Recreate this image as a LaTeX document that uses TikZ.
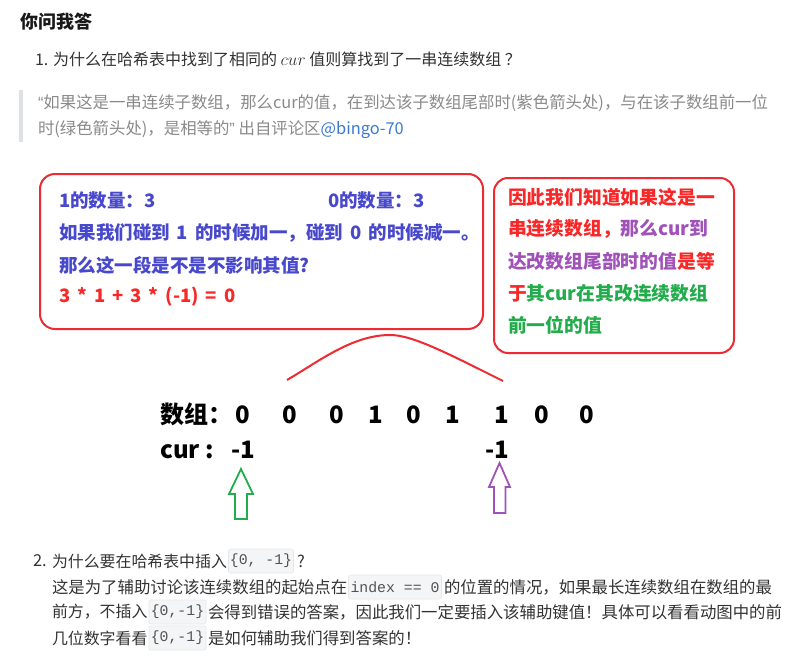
\documentclass[tikz,border=0pt]{standalone}
\usepackage{fontspec}
\setmainfont{Noto Sans CJK SC}
\setmonofont{Liberation Mono}
\newfontfamily\latinq{Liberation Sans}
\newcommand\widespaces{\spaceskip 7pt\relax}
\definecolor{bxred}{RGB}{238,42,50}
\definecolor{txred}{RGB}{248,40,40}
\definecolor{txblue}{RGB}{72,72,205}
\definecolor{txpurple}{RGB}{160,82,185}
\definecolor{txgreen}{RGB}{34,172,76}
\definecolor{quotegray}{RGB}{138,138,138}
\definecolor{linkblue}{RGB}{58,122,212}
\definecolor{barcol}{RGB}{223,226,229}
\definecolor{codebg}{RGB}{244,245,246}
\definecolor{codeborder}{RGB}{230,231,233}
\definecolor{bodytext}{RGB}{51,51,51}
\begin{document}
\begin{tikzpicture}[x=1pt,y=-1pt,
  txt/.style={anchor=west,inner sep=0pt,outer sep=0pt},
  bodyline/.style={txt,font=\fontsize{16.4}{20}\selectfont,text=bodytext},
  shortline/.style={txt,font=\fontsize{15.9}{20}\selectfont,text=bodytext},
  quoteline/.style={txt,font=\fontsize{16.4}{20}\selectfont,text=quotegray},
  boxline/.style={txt,font={\fontsize{18.5}{22}\selectfont\bfseries\widespaces}},
  rboxline/.style={txt,font=\fontsize{18.8}{22}\selectfont\bfseries},
  bigrow/.style={anchor=base west,inner sep=0pt,font=\fontsize{24}{28}\selectfont\bfseries,text=black},
  bigdigit/.style={anchor=base,inner sep=0pt,font=\fontsize{24}{28}\selectfont\bfseries,text=black},
  redbox/.style={draw=bxred,line width=2pt,rounded corners=15pt},
  codebox/.style={fill=codebg,draw=codeborder,line width=0.6pt,rounded corners=2pt,minimum height=24pt,inner sep=0pt,font=\fontsize{14.8}{16}\selectfont\ttfamily,text=bodytext!85},
  hollowarrow/.style={line width=1.8pt,line join=miter}
]
\useasboundingbox (0,0) rectangle (803,666);
\fill[white] (0,0) rectangle (803,666);

% header and question 1
\node[txt,font=\fontsize{18}{22}\selectfont\bfseries,text=black!90] (title) at (20,22) {你问我答};
\node[txt,font=\fontsize{16}{20}\selectfont,text=bodytext] (q1) at (35,59) {1. 为什么在哈希表中找到了相同的 $cur$ 值则算找到了一串连续数组 ？};

% quote
\fill[barcol] (19,90) rectangle (23,142);
\node[quoteline] (quote1) at (38,103) {{\latinq “}如果这是一串连续子数组，那么cur的值，在到达该子数组尾部时(紫色箭头处)，与在该子数组前一位};
\node[quoteline] (quote2) at (38,130) {时(绿色箭头处)，是相等的{\latinq ”} 出自评论区{\color{linkblue}@bingo-70}};

% left box
\draw[redbox] (40,174) rectangle (483,329);
\node[boxline,text=txblue] (cnt1) at (59,201) {1的数量：3};
\node[boxline,text=txblue] (cnt0) at (328,201) {0的数量：3};
\node[boxline,text=txblue] (rule) at (59,233) {如果我们碰到 1 的时候加一，碰到 0 的时候减一。};
\node[boxline,text=txblue] (ask) at (59,265) {那么这一段是不是不影响其值?};
\node[boxline,text=txred] (calc) at (59,297) {3 * 1 + 3 * (-1) = 0};

% right box
\draw[redbox,rounded corners=14pt] (494,178) rectangle (734,353);
\node[rboxline,text=txred] (r1) at (508,197) {因此我们知道如果这是一};
\node[rboxline] (r2) at (508,229) {{\color{txred}串连续数组，}{\color{txpurple}那么cur到}};
\node[rboxline] (r3) at (508,261) {{\color{txpurple}达改数组尾部时的值}{\color{txred}是等}};
\node[rboxline] (r4) at (508,293) {{\color{txred}于}{\color{txgreen}其cur在其改连续数组}};
\node[rboxline,text=txgreen] (r5) at (508,325) {前一位的值};

% arc over the subarray
\draw[bxred,line width=2pt] (287,380) .. controls (318,362) and (352,335) .. (390,335)
  .. controls (412,335) and (445,352) .. (503,381);

% array rows
\node[bigrow] (arrlabel) at (160,423) {数组：};
\node[bigdigit] (d1) at (243,423) {0};
\node[bigdigit] (d2) at (290,423) {0};
\node[bigdigit] (d3) at (337,423) {0};
\node[bigdigit] (d4) at (376,423) {1};
\node[bigdigit] (d5) at (414,423) {0};
\node[bigdigit] (d6) at (453,423) {1};
\node[bigdigit] (d7) at (502,423) {1};
\node[bigdigit] (d8) at (542,423) {0};
\node[bigdigit] (d9) at (587,423) {0};
\node[bigrow] (curlabel) at (160,458) {cur :};
\node[bigdigit] (c1) at (243,458) {-1};
\node[bigdigit] (c2) at (497,458) {-1};

% hollow arrows
\draw[hollowarrow,txgreen] (241,469) -- (253,494) -- (247,494) -- (247,519) -- (235,519) -- (235,494) -- (229,494) -- cycle;
\draw[hollowarrow,txpurple] (499.5,463) -- (510,487) -- (505.5,487) -- (505.5,513) -- (494,513) -- (494,487) -- (489,487) -- cycle;

% question 2
\node[bodyline] (n2) at (33,561) {2.};
\node[shortline] (q2a) at (52,561) {为什么要在哈希表中插入};
\node[codebox,minimum width=65pt] (code1) at (261,561) {\{0, -1\}};
\node[bodyline] (q2b) at (297,561) {?};
\node[bodyline] (p1a) at (52,587) {这是为了辅助讨论该连续数组的起始点在};
\node[codebox,minimum width=93pt] (code2) at (395,587) {index == 0};
\node[bodyline] (p1b) at (444,587) {的位置的情况，如果最长连续数组在数组的最};
\node[shortline] (p2a) at (52,612) {前方，不插入};
\node[codebox,minimum width=57pt] (code3) at (177.5,612) {\{0,-1\}};
\node[bodyline] (p2b) at (208,612) {会得到错误的答案，因此我们一定要插入该辅助键值！具体可以看看动图中的前};
\node[shortline] (p3a) at (52,638) {几位数字看看};
\node[codebox,minimum width=57pt] (code4) at (177.5,638) {\{0,-1\}};
\node[bodyline] (p3b) at (208,638) {是如何辅助我们得到答案的！};
\end{tikzpicture}
\end{document}
